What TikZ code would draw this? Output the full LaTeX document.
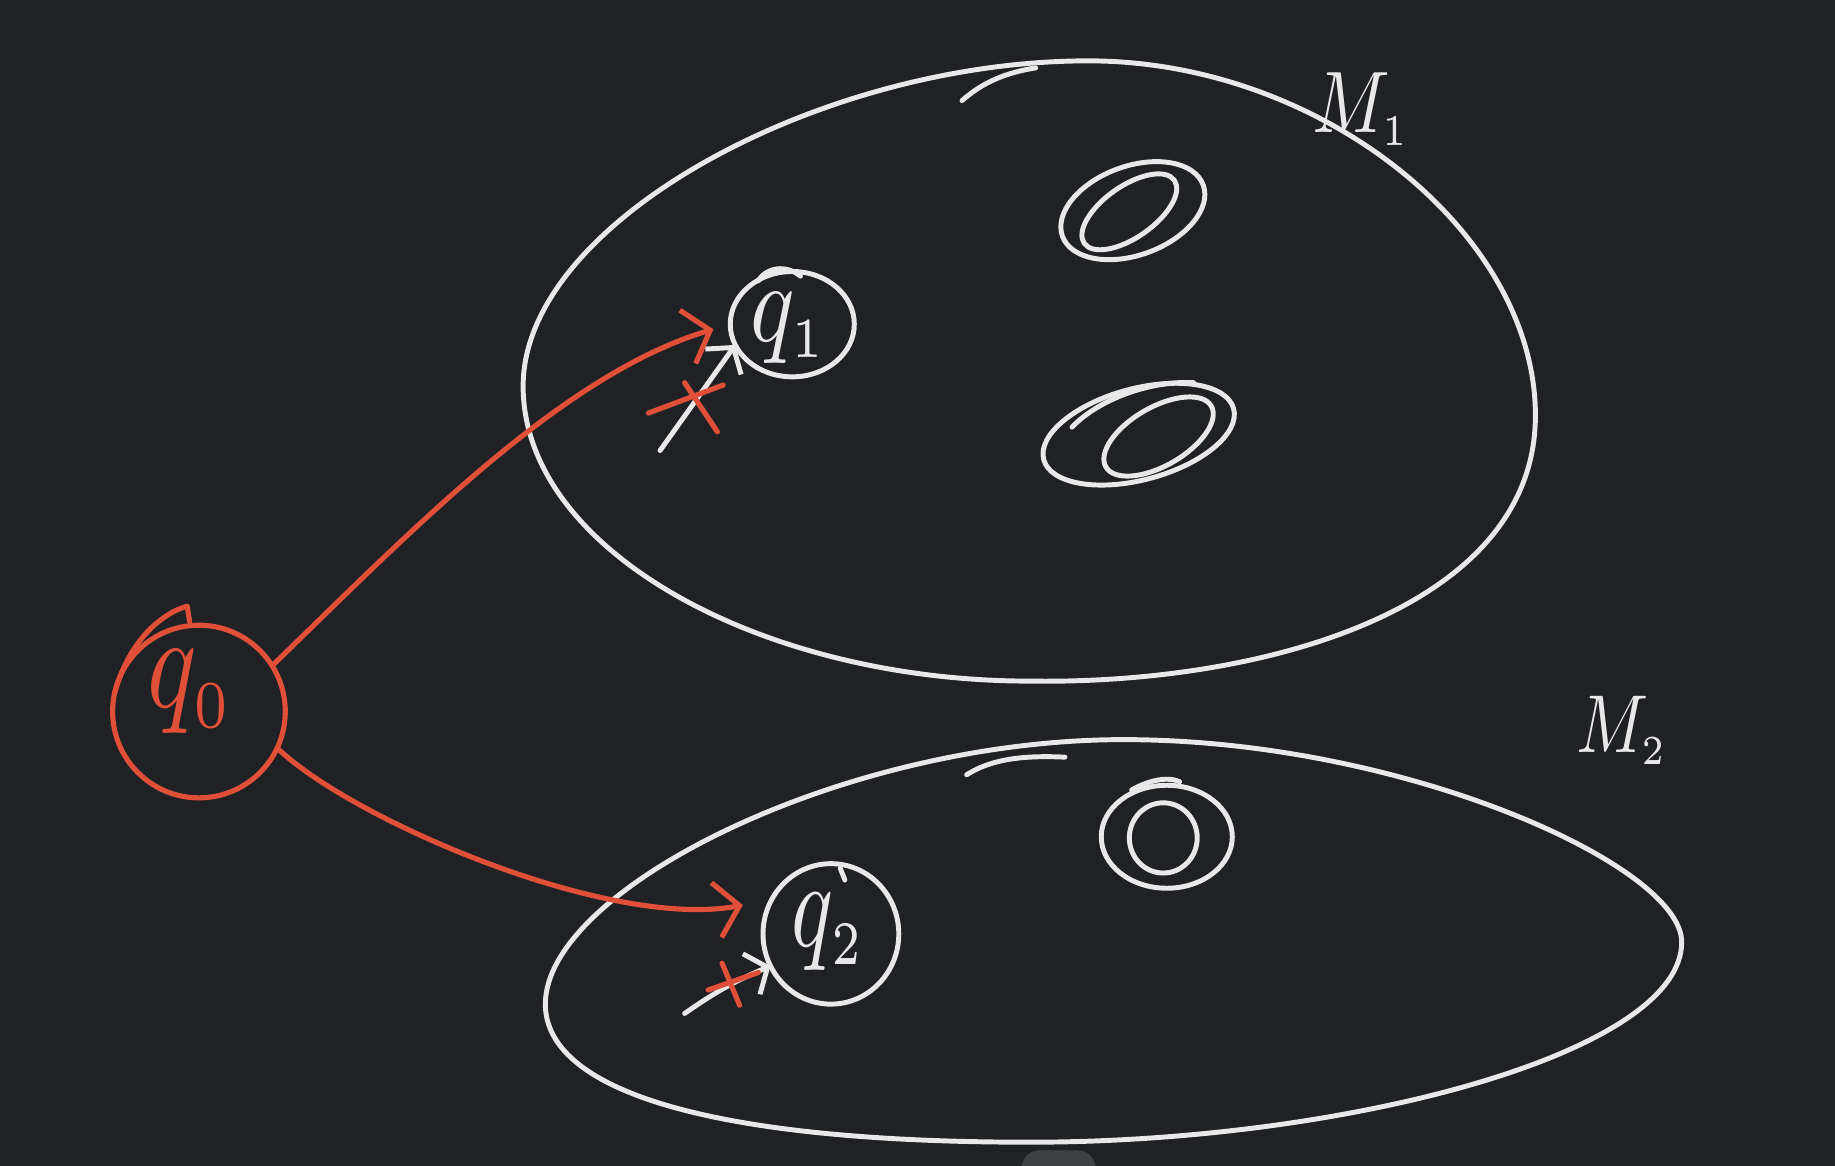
\documentclass[tikz,border=0pt]{standalone}
\usepackage{tikz}
\usepackage{graphicx}
\usetikzlibrary{shapes.geometric,arrows.meta}
\definecolor{bg}{RGB}{32,33,36}
\definecolor{pen}{RGB}{232,232,232}
\definecolor{redpen}{RGB}{224,80,56}
\definecolor{pill}{RGB}{62,64,68}
\begin{document}
\begin{tikzpicture}[x=0.04cm,y=-0.04cm,
  wl/.style={draw=pen,line width=4.8pt,line cap=round,line join=round},
  rl/.style={draw=redpen,line width=5pt,line cap=round,line join=round},
  state/.style={ellipse,inner sep=0pt,outer sep=0pt},
  lab/.style={inner sep=0pt},
  rbarb/.style={-{Straight Barb[length=0.8cm,width=1.9cm]}},
  wbarb/.style={-{Straight Barb[length=0.6cm,width=1.5cm]}}]
\fill[bg] (0,0) rectangle (1568,996);
\useasboundingbox (0,0) rectangle (1568,996);
% page indicator
\begin{scope}
\clip (0,0) rectangle (1568,996);
\fill[pill,rounded corners=0.6cm] (873,983) rectangle (936,1020);
\end{scope}
% M1 blob
\draw[wl] (447,330) .. controls (447,190) and (700,52) .. (930,52)
  .. controls (1130,52) and (1312,200) .. (1312,355)
  .. controls (1312,520) and (1080,585) .. (880,582)
  .. controls (650,582) and (447,470) .. (447,330) -- cycle;
\draw[wl] (822,86) .. controls (840,70) and (860,62) .. (885,58);
% M2 blob
\draw[wl] (466,858) .. controls (466,760) and (720,632) .. (960,632)
  .. controls (1200,632) and (1437,740) .. (1437,805)
  .. controls (1437,900) and (1150,976) .. (880,976)
  .. controls (600,976) and (466,930) .. (466,858) -- cycle;
\draw[wl] (826,662) .. controls (845,650) and (870,645) .. (910,647);
% double ellipses in M1
\draw[wl,rotate around={20:(968,180)}] (968,180) ellipse (64 and 38);
\draw[wl,rotate around={35:(965,181)}] (965,181) ellipse (47 and 22);
\draw[wl,rotate around={15:(973,371)}] (973,371) ellipse (84 and 39);
\draw[wl] (916,365) .. controls (940,340) and (985,325) .. (1020,327);
\draw[wl,rotate around={30:(990,373)}] (990,373) ellipse (52 and 25);
% double ellipse in M2
\draw[wl] (997,715) ellipse (56 and 44);
\draw[wl] (994,716) ellipse (29 and 30);
\draw[wl] (967,675) .. controls (985,665) and (1000,664) .. (1008,668);
% states
\node[state,draw=redpen,line width=5pt,minimum width=5.9cm,minimum height=5.9cm] (q0) at (170,608) {};
\node[lab,text=redpen] (t0) at (163,591) {\scalebox{10}[13]{$q_{\scriptscriptstyle 0}$}};
\draw[rl] (162,531) -- (160,518) .. controls (138,524) and (110,548) .. (98,592);
\node[state,draw=pen,line width=4.8pt,minimum width=4.24cm,minimum height=3.6cm] (q1) at (677,277) {};
\node[lab,text=pen] (t1) at (674,280) {\scalebox{9}[11]{$q_{\scriptscriptstyle 1}$}};
\draw[wl] (648,240) .. controls (655,228) and (672,226) .. (684,236);
\node[state,draw=pen,line width=4.8pt,minimum width=4.64cm,minimum height=4.8cm] (q2) at (710,798) {};
\node[lab,text=pen] (t2) at (708,796) {\scalebox{8.5}[12]{$q_{\scriptscriptstyle 2}$}};
\draw[wl] (718,742) -- (722,752);
% labels
\node[lab,text=pen] (m1) at (1163,93) {\scalebox{7}[8.5]{$M_{\scriptscriptstyle 1}$}};
\node[lab,text=pen] (m2) at (1386,624) {\scalebox{6.5}[8]{$M_{\scriptscriptstyle 2}$}};
% red transitions
\draw[rl,rbarb,shorten >=0.6cm] (q0.32) .. controls (350,455) and (480,320) .. (q1.west);
\draw[rl,rbarb,shorten >=1cm] (q0.-25) .. controls (300,700) and (520,795) .. (q2.150);
% white arrows
\coordinate (w1) at (564,385);
\coordinate (w2) at (585,866);
\draw[wl,wbarb] (w1) -- (q1.200);
\draw[wl,wbarb] (w2) to[bend left=6] (q2.208);
% red crosses
\draw[rl] (554,353) -- (618,329);
\draw[rl] (585,327) -- (613,369);
\draw[rl] (605,846) -- (648,831);
\draw[rl] (617,823) -- (632,859);
\end{tikzpicture}
\end{document}
